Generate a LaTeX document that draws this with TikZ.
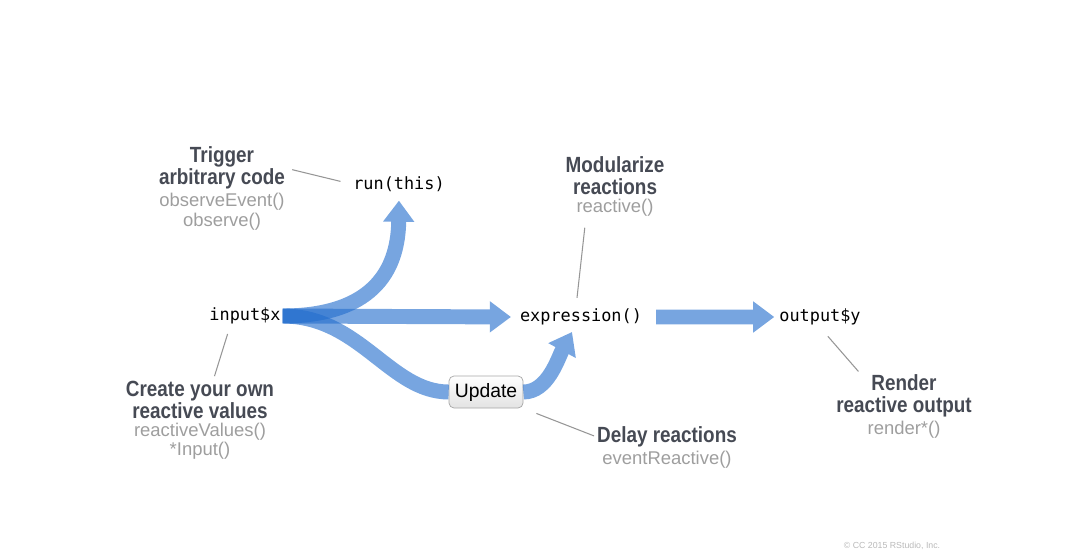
\documentclass[tikz,border=0pt]{standalone}
\usepackage{fontspec}
\setmainfont{Liberation Sans}
\newfontfamily\condfont[FakeStretch=0.86]{Liberation Sans}
\newfontfamily\codefont{DejaVu Sans Mono}
\usetikzlibrary{arrows.meta,positioning}
\definecolor{flowblue}{RGB}{36,110,205}
\definecolor{headgray}{RGB}{70,74,84}
\definecolor{apigray}{RGB}{158,158,158}
\definecolor{leadgray}{RGB}{150,150,150}

\tikzset{
  flow/.style={line width=8.5pt, flowblue, -{Triangle[length=12pt,width=17pt]}},
  code/.style={font=\codefont\fontsize{9.6pt}{11pt}\selectfont, inner sep=1pt},
  title/.style={font=\condfont\bfseries\fontsize{12.5pt}{12.5pt}\selectfont, text=headgray, align=center, inner sep=0pt},
  api/.style={font=\fontsize{10.5pt}{11pt}\selectfont, text=apigray, align=center, inner sep=0pt},
  lead/.style={leadgray, line width=0.6pt},
  button/.style={draw=gray!70, rounded corners=1mm, top color=white, bottom color=gray!22,
    minimum width=14.8mm, minimum height=6.4mm, font=\fontsize{11pt}{13pt}\selectfont, inner sep=1pt}
}

\begin{document}
\begin{tikzpicture}[x=0.2mm, y=-0.2mm]
  \useasboundingbox (0,0) rectangle (1070,558);
  % code nodes
  \node[code] (inx) at (245,316) {input\$x};
  \node[code] (expr) at (581,317) {expression()};
  \node[code] (outy) at (820,317) {output\$y};
  \node[code] (run) at (399,184) {run(this)};
  \node[button] (upd) at (486,392) {Update};
  \coordinate (exprin) at (572,332);
  % flows
  \begin{scope}[transparency group, opacity=0.62]
    \draw[flow, shorten >=1.4mm] (inx.east) -- (expr.west);
  \end{scope}
  \begin{scope}[transparency group, opacity=0.62]
    \draw[flow, shorten >=1.4mm] (inx.east) .. controls (350,316) and (398,290) .. (run.south);
  \end{scope}
  \begin{scope}[transparency group, opacity=0.62]
    \draw[line width=8.5pt, flowblue] (inx.east) .. controls (360,316) and (390,392) .. (upd.west);
  \end{scope}
  \begin{scope}[transparency group, opacity=0.62]
    \draw[flow] (upd.east) .. controls (548,392) and (558,358) .. (exprin);
  \end{scope}
  \begin{scope}[transparency group, opacity=0.62]
    \draw[flow, shorten <=2.4mm, shorten >=0.6mm] (expr.east) -- (outy.west);
  \end{scope}
  % labels
  \node[title] (trigT) at (222,168) {Trigger\\arbitrary code};
  \node[api, below=0.7mm of trigT] (trigA) {observeEvent()\\observe()};
  \node[title] (modT) at (615,176) {Modularize\\reactions};
  \node[api, below=0.7mm of modT] (modA) {reactive()};
  \node[title] (createT) at (200,400) {Create your own\\reactive values};
  \node[api, below=0.7mm of createT] (createA) {reactiveValues()\\*Input()};
  \node[title] (delayT) at (667,437) {Delay reactions};
  \node[api, below=0.7mm of delayT] (delayA) {eventReactive()};
  \node[title] (renderT) at (904,396) {Render\\reactive output};
  \node[api, below=0.7mm of renderT] (renderA) {render*()};
  \node[font=\fontsize{5pt}{6pt}\selectfont, text=gray!55] (copy) at (892,546) {© CC 2015 RStudio, Inc.};
  % leaders
  \draw[lead, shorten <=1.4mm, shorten >=2.2mm] (trigT.east) -- (run.west);
  \draw[lead, shorten <=2.2mm, shorten >=1.8mm] ([xshift=-5.8mm]modA.south) -- ([xshift=-1mm]expr.north);
  \draw[lead, shorten <=1.6mm, shorten >=1mm] ([xshift=-3mm]inx.south) -- ([xshift=2.6mm]createT.north);
  \draw[lead, shorten <=2.8mm, shorten >=0.6mm] (upd.south east) -- (delayT.west);
  \draw[lead, shorten <=2.4mm, shorten >=0.8mm] (outy.south) -- ([xshift=-8.6mm]renderT.north);
\end{tikzpicture}
\end{document}
